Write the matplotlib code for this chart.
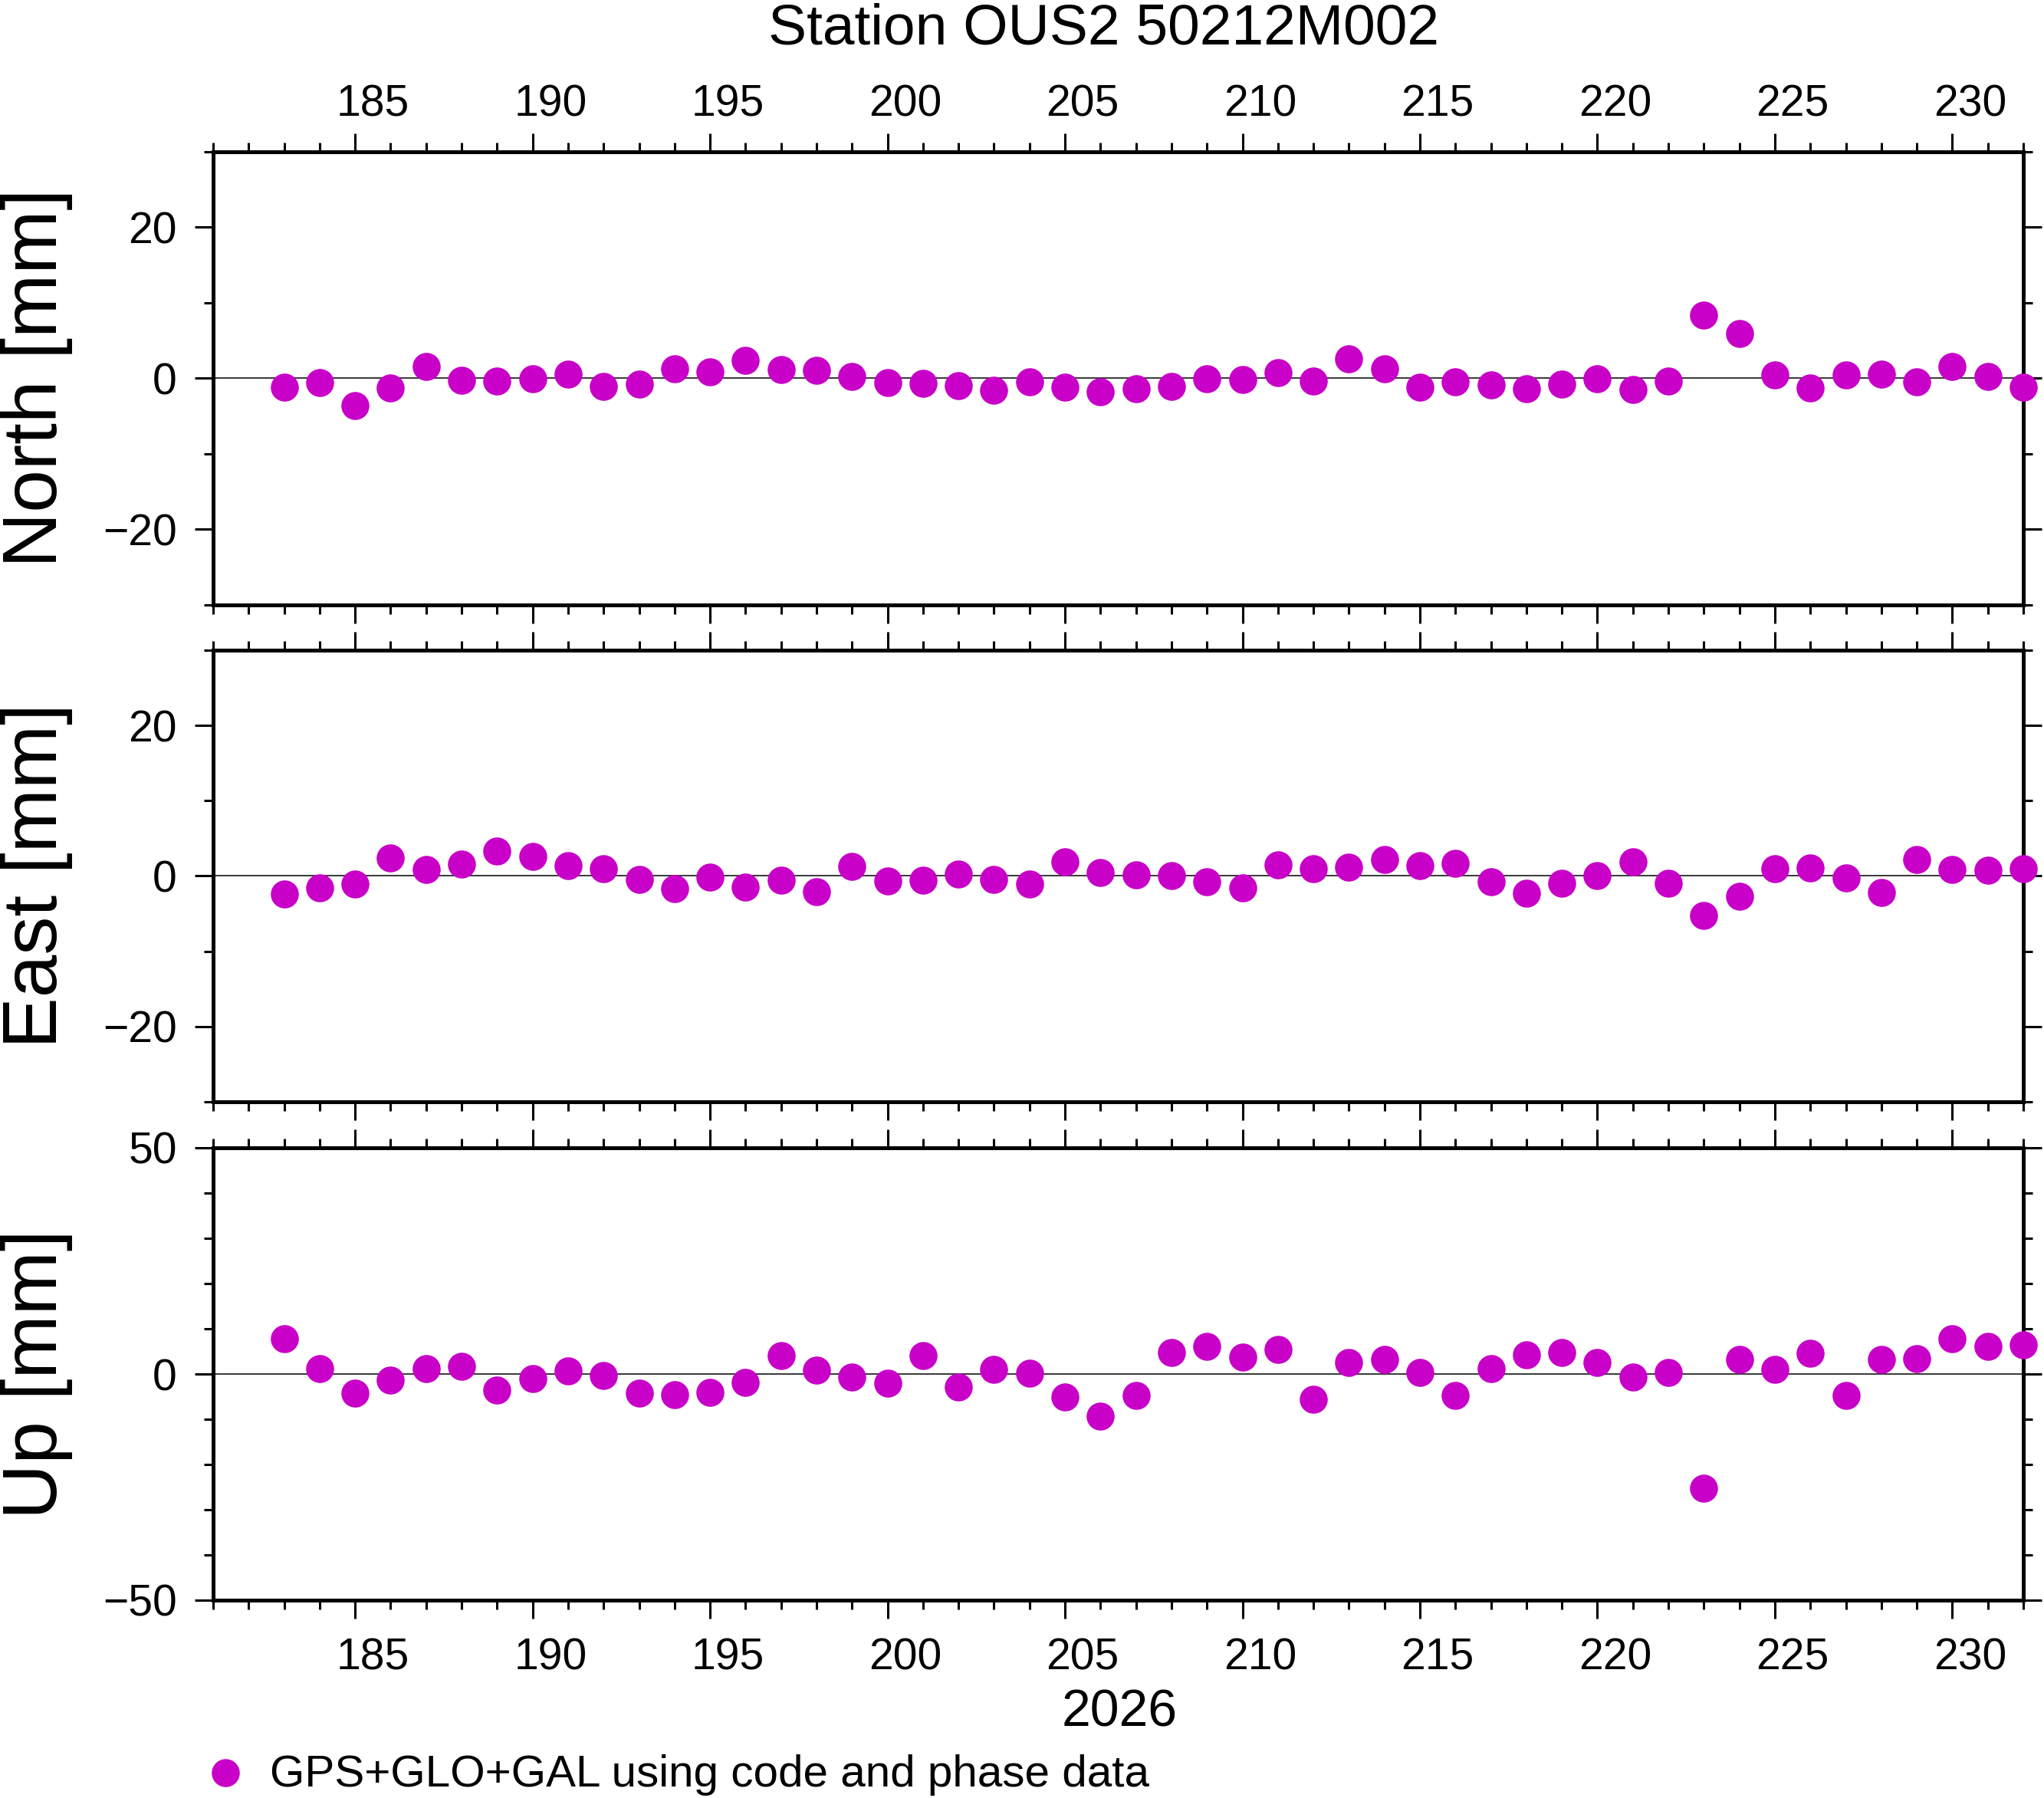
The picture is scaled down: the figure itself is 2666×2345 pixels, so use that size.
import matplotlib
matplotlib.use("Agg")

import matplotlib.pyplot as plt
import matplotlib.transforms as mtransforms
from matplotlib.lines import Line2D
from matplotlib.ticker import MultipleLocator

plt.rcParams['font.family'] = ['Liberation Sans', 'DejaVu Sans']

# ------------------------------------------------------------
# DATA (day of year 2026, residuals in mm)
# ------------------------------------------------------------
days = [183, 184, 185, 186, 187, 188, 189, 190, 191, 192,
        193, 194, 195, 196, 197, 198, 199, 200, 201, 202,
        203, 204, 205, 206, 207, 208, 209, 210, 211, 212,
        213, 214, 215, 216, 217, 218, 219, 220, 221, 222,
        223, 224, 225, 226, 227, 228, 229, 230, 231, 232]

north = [-1.2, -0.6, -3.6, -1.3, 1.6, -0.3, -0.4, -0.1, 0.5, -1.1,
         -0.8, 1.2, 0.8, 2.4, 1.1, 1.0, 0.2, -0.6, -0.7, -1.0,
         -1.6, -0.5, -1.2, -1.8, -1.4, -1.1, -0.1, -0.2, 0.7, -0.4,
         2.6, 1.2, -1.2, -0.5, -0.9, -1.4, -0.8, -0.1, -1.5, -0.4,
         8.4, 5.9, 0.4, -1.3, 0.4, 0.5, -0.5, 1.6, 0.2, -1.2]

east = [-2.4, -1.6, -1.1, 2.4, 0.9, 1.6, 3.3, 2.6, 1.4, 1.0,
        -0.5, -1.7, -0.2, -1.5, -0.6, -2.1, 1.3, -0.7, -0.6, 0.3,
        -0.5, -1.1, 1.9, 0.5, 0.2, 0.0, -0.8, -1.6, 1.5, 1.0,
        1.2, 2.2, 1.4, 1.7, -0.8, -2.3, -1.0, 0.1, 1.9, -1.0,
        -5.2, -2.7, 1.0, 1.1, -0.3, -2.2, 2.2, 0.9, 0.8, 1.0]

up = [7.8, 1.2, -4.3, -1.4, 1.2, 1.7, -3.5, -1.1, 0.7, -0.4,
      -4.3, -4.5, -4.1, -1.9, 4.1, 0.9, -0.6, -2.1, 4.1, -2.8,
      1.0, 0.2, -5.0, -9.4, -4.8, 4.8, 6.1, 3.8, 5.5, -5.6,
      2.5, 3.2, 0.3, -4.8, 1.2, 4.3, 4.8, 2.5, -0.6, 0.4,
      -25.3, 3.3, 1.1, 4.5, -4.7, 3.3, 3.4, 7.8, 6.1, 6.5]

panel_names = ["North [mm]", "East [mm]", "Up [mm]"]
panel_limits = [30, 30, 50]
panel_major = [20, 20, 50]
day_labels = [185, 190, 195, 200, 205, 210, 215, 220, 225, 230]

title = "Station OUS2 50212M002"
year_label = "2026"
legend_label = "GPS+GLO+GAL using code and phase data"

COLOR = "#c800c8"
W, H = 2666, 2345

# ------------------------------------------------------------
# FIGURE
# ------------------------------------------------------------
fig = plt.figure(figsize=(W / 100, H / 100), dpi=100)

left = 278 / W
width = (2639 - 278) / W
panel_px = [(198, 788.5), (848, 1437), (1497, 2087)]

axes = []
for (top_px, bot_px), name, lim, major, vals in zip(
        panel_px, panel_names, panel_limits, panel_major, [north, east, up]):
    ax = fig.add_axes([left, 1 - bot_px / H, width, (bot_px - top_px) / H])
    ax.axhline(0, color="black", lw=1.1, zorder=1)
    ax.plot(days, vals, "o", ms=26.3, color=COLOR, mec="none",
            clip_on=False, zorder=3)
    ax.set_xlim(181, 232)
    ax.set_ylim(-lim, lim)

    ax.xaxis.set_major_locator(MultipleLocator(5))
    ax.xaxis.set_minor_locator(MultipleLocator(1))
    ax.yaxis.set_major_locator(MultipleLocator(major))
    ax.yaxis.set_minor_locator(MultipleLocator(10))

    ax.tick_params(which="both", direction="out", top=True, right=True,
                   bottom=True, left=True, width=2.2, color="black")
    ax.tick_params(which="major", length=17)
    ax.tick_params(which="minor", length=8.5)
    ax.tick_params(axis="x", labelbottom=False, labeltop=False)
    ax.tick_params(axis="y", labelsize=41, pad=17)
    for sp in ax.spines.values():
        sp.set_linewidth(3.6)

    fig.text(95 / W, 1 - (top_px + bot_px) / 2 / H, name, rotation=90,
             ha="right", va="center", fontsize=72)
    axes.append(ax)

# day labels centred in the day interval, on top and bottom
for ax, ypx in [(axes[0], 152), (axes[2], 2178)]:
    trans = mtransforms.blended_transform_factory(ax.transData, fig.transFigure)
    for d in day_labels:
        ax.text(d + 0.5, 1 - ypx / H, str(d), transform=trans,
                ha="center", va="baseline", fontsize=41)

fig.text(1439 / W, 1 - 57 / H, title, ha="center", va="baseline", fontsize=54)
fig.text(1460 / W, 1 - 2251 / H, year_label, ha="center", va="baseline",
         fontsize=49)

# legend
fig.add_artist(Line2D([294 / W], [1 - 2312 / H], marker="o", ms=26.3,
                      color=COLOR, mec="none", transform=fig.transFigure))
fig.text(352 / W, 1 - 2330 / H, legend_label, ha="left", va="baseline",
         fontsize=42)

fig.savefig("out.png", dpi=100)
